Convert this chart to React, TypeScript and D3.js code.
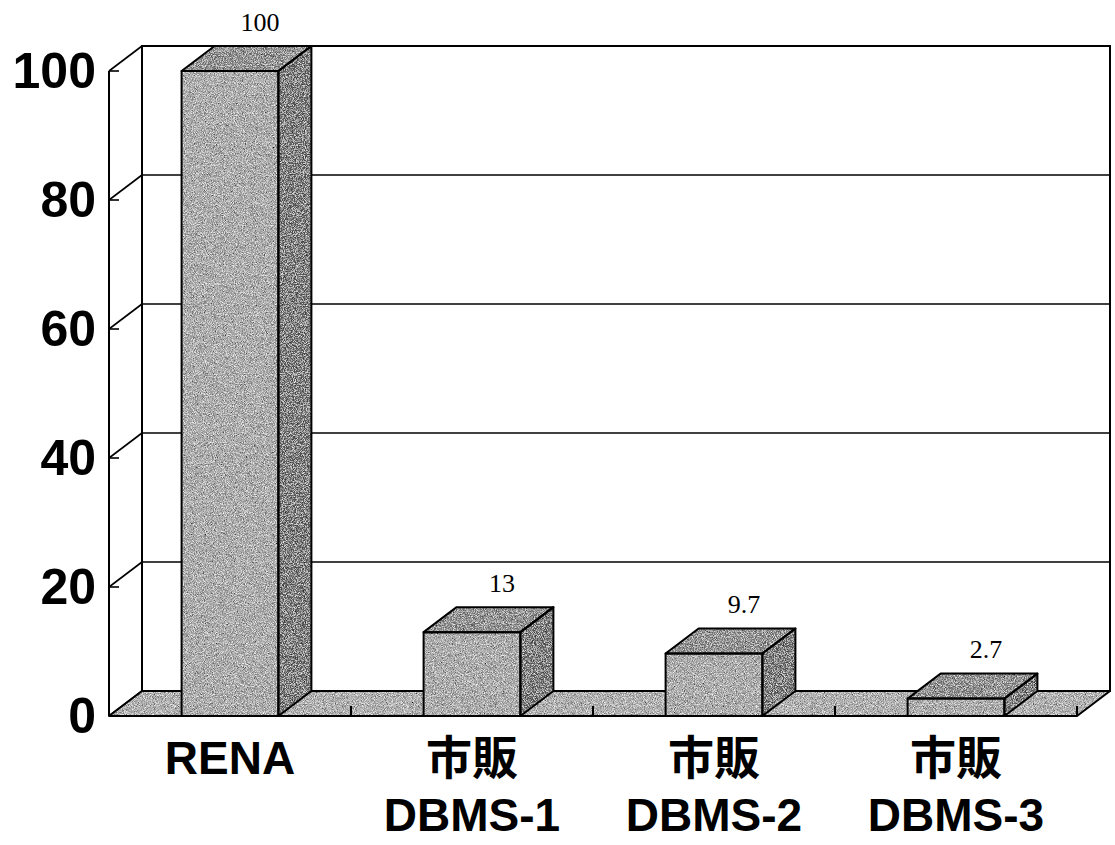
import React from "react";
import * as d3 from "d3";

const categories = ["RENA", "市販 DBMS-1", "市販 DBMS-2", "市販 DBMS-3"];
const values = [100, 13, 9.7, 2.7];
const valueLabels = ["100", "13", "9.7", "2.7"];
const yTicks = [0, 20, 40, 60, 80, 100];

const W = 1115;
const H = 845;
const X0 = 109;
const X1 = 1077;
const Y0 = 716;
const Y1 = 71;
const DX = 33;
const DY = -25;

export default function App() {
  const x = d3.scaleBand<string>().domain(categories).range([X0, X1]).paddingInner(0.6).paddingOuter(0.3);
  const y = d3.scaleLinear().domain([0, 100]).range([Y0, Y1]);
  const step = x.step();
  const bw = x.bandwidth();
  const pts = (a: number[][]) => a.map((p) => p.join(",")).join(" ");

  const floor = [
    [X0, Y0],
    [X1, Y0],
    [X1 + DX, Y0 + DY],
    [X0 + DX, Y0 + DY],
  ];
  const boundaries = d3.range(1, categories.length + 1).map((i) => X0 + i * step);

  return (
    <svg width={W} height={H} style={{ position: "absolute", left: 0, top: 0, background: "#fff" }}>
      <defs>
        <filter id="grain" x="0" y="0" width="100%" height="100%" filterUnits="objectBoundingBox">
          <feTurbulence type="fractalNoise" baseFrequency="1.1" numOctaves="2" seed="4" result="t" />
          <feColorMatrix in="t" type="matrix"
            values="0 0 0 0 0  0 0 0 0 0  0 0 0 0 0  2.2 0 0 0 -0.95" result="dark" />
          <feColorMatrix in="t" type="matrix"
            values="0 0 0 0 1  0 0 0 0 1  0 0 0 0 1  0 -2.2 0 0 1.25" result="light" />
          <feComposite in="dark" in2="SourceGraphic" operator="in" result="darkIn" />
          <feComposite in="light" in2="SourceGraphic" operator="in" result="lightIn" />
          <feMerge>
            <feMergeNode in="SourceGraphic" />
            <feMergeNode in="darkIn" />
            <feMergeNode in="lightIn" />
          </feMerge>
        </filter>
      </defs>

      {/* back wall */}
      <rect x={X0 + DX} y={y(100) + DY} width={X1 - X0} height={y(0) - y(100)} fill="#fff" stroke="#000" strokeWidth={2} />
      {yTicks.map((t) => (
        <g key={t}>
          <line x1={X0 + DX} x2={X1 + DX} y1={y(t) + DY} y2={y(t) + DY} stroke="#000" strokeWidth={1.6} />
          <line x1={X0} x2={X0 + DX} y1={y(t)} y2={y(t) + DY} stroke="#000" strokeWidth={1.6} />
          <line x1={X0} x2={X0 + 10} y1={y(t)} y2={y(t)} stroke="#000" strokeWidth={1.6} />
          <text x={96} y={y(t)} textAnchor="end" dominantBaseline="central"
            fontFamily="'Liberation Sans', Arial, sans-serif" fontWeight="bold" fontSize={50} fill="#000">
            {t}
          </text>
        </g>
      ))}
      <line x1={X0} x2={X0} y1={y(100)} y2={y(0)} stroke="#000" strokeWidth={2} />

      {/* floor */}
      <polygon points={pts(floor)} fill="#a9a9a9" filter="url(#grain)" />
      <polygon points={pts(floor)} fill="none" stroke="#000" strokeWidth={2} strokeLinejoin="round" />
      {boundaries.map((b) => (
        <line key={b} x1={b} x2={b} y1={Y0} y2={Y0 - 10} stroke="#000" strokeWidth={2} />
      ))}

      {/* bars */}
      {categories.map((c, i) => {
        const bx0 = x(c)!;
        const bx1 = bx0 + bw;
        const top = y(values[i]);
        const front = [[bx0, top], [bx1, top], [bx1, Y0], [bx0, Y0]];
        const side = [[bx1, top], [bx1 + DX, top + DY], [bx1 + DX, Y0 + DY], [bx1, Y0]];
        const lid = [[bx0, top], [bx0 + DX, top + DY], [bx1 + DX, top + DY], [bx1, top]];
        return (
          <g key={c}>
            <polygon points={pts(front)} fill="#a3a3a3" filter="url(#grain)" />
            <polygon points={pts(side)} fill="#5e5e5e" filter="url(#grain)" />
            <polygon points={pts(lid)} fill="#7e7e7e" filter="url(#grain)" />
            <polygon points={pts(front)} fill="none" stroke="#000" strokeWidth={2} strokeLinejoin="round" />
            <polygon points={pts(side)} fill="none" stroke="#000" strokeWidth={2} strokeLinejoin="round" />
            <polygon points={pts(lid)} fill="none" stroke="#000" strokeWidth={2} strokeLinejoin="round" />
            <text x={bx0 + bw / 2 + 30} y={top + DY - 24} textAnchor="middle" dominantBaseline="central"
              fontFamily="'Liberation Serif', 'Times New Roman', serif" fontSize={26} fill="#000">
              {valueLabels[i]}
            </text>
          </g>
        );
      })}

      {/* category labels */}
      {categories.map((c) => {
        const lines = c.split(" ");
        const cx = x(c)! + bw / 2;
        return (
          <text key={c} textAnchor="middle" fontFamily="'Liberation Sans', 'Noto Sans CJK JP', sans-serif"
            fontWeight="bold" fontSize={46} fill="#000">
            {lines.map((l, j) => (
              <tspan key={j} x={cx} y={774 + j * 57}>{l}</tspan>
            ))}
          </text>
        );
      })}
    </svg>
  );
}
